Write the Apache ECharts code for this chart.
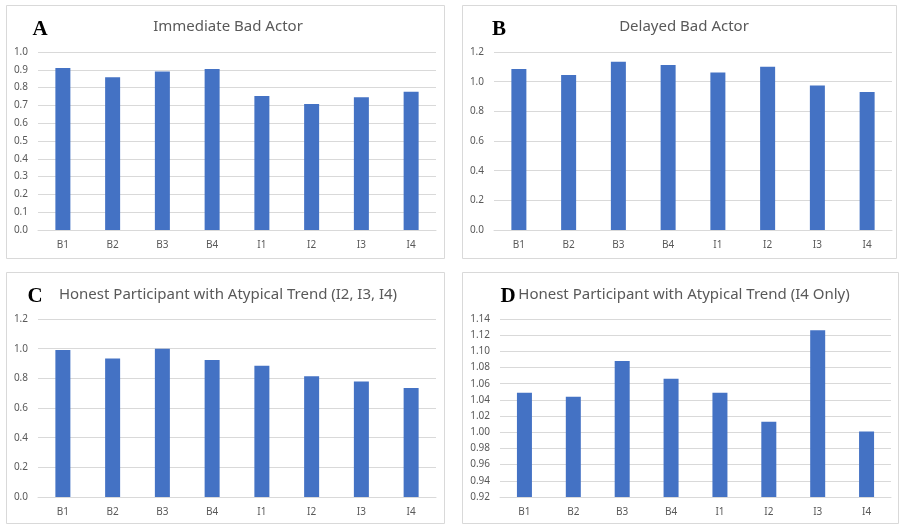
<!DOCTYPE html>
<html>
<head>
<meta charset="utf-8">
<script src="https://cdn.jsdelivr.net/npm/echarts@6/dist/echarts.min.js"></script>
<style>html,body{margin:0;padding:0;background:#fff;}#c{width:901px;height:525px;}</style>
</head>
<body>
<div id="c"></div>
<script>
const categories = ['B1','B2','B3','B4','I1','I2','I3','I4'];
const immediateBadActor = [0.910, 0.858, 0.890, 0.905, 0.753, 0.708, 0.746, 0.776];
const delayedBadActor = [1.086, 1.045, 1.135, 1.113, 1.061, 1.101, 0.974, 0.931];
const honestI2I3I4 = [0.991, 0.933, 1.000, 0.924, 0.884, 0.814, 0.779, 0.734];
const honestI4Only = [1.049, 1.044, 1.088, 1.066, 1.049, 1.013, 1.126, 1.001];
const panelTitles = ['Immediate Bad Actor', 'Delayed Bad Actor', 'Honest Participant with Atypical Trend (I2, I3, I4)', 'Honest Participant with Atypical Trend (I4 Only)'];
const panelLetters = ['A', 'B', 'C', 'D'];
const yMin = [0, 0, 0, 0.92];
const yMax = [1.0, 1.2, 1.2, 1.14];
const yStep = [0.1, 0.2, 0.2, 0.02];
const yDecimals = [1, 1, 1, 2];

const seriesData = [immediateBadActor, delayedBadActor, honestI2I3I4, honestI4Only];
const grids = [
  {left: 38, top: 52, width: 398, height: 178},
  {left: 494, top: 52, width: 398, height: 178},
  {left: 38, top: 319, width: 398, height: 178},
  {left: 500, top: 319, width: 391, height: 178}
];
const panels = [
  {x: 6, y: 5, w: 438, h: 253},
  {x: 462, y: 5, w: 434, h: 253},
  {x: 6, y: 272, w: 438, h: 251},
  {x: 462, y: 272, w: 436, h: 251}
];
const titlePos = [
  {x: 228, y: 27, lx: 40, ly: 30},
  {x: 684, y: 27, lx: 499, ly: 30},
  {x: 228, y: 295, lx: 35, ly: 297},
  {x: 684, y: 295, lx: 508, ly: 297}
];
const gray = '#595959';
const gridColor = '#d9d9d9';

const chart = echarts.init(document.getElementById('c'), null, {renderer: 'canvas'});
const graphics = [];
panels.forEach(p => graphics.push({type: 'rect', shape: {x: p.x + 0.5, y: p.y + 0.5, width: p.w, height: p.h}, style: {fill: null, stroke: gridColor, lineWidth: 1}, silent: true}));
titlePos.forEach((t, i) => {
  graphics.push({type: 'text', x: t.x, y: t.y, style: {text: panelTitles[i], font: '15px "Noto Sans", sans-serif', fill: gray, textAlign: 'center', textVerticalAlign: 'middle'}});
  graphics.push({type: 'text', x: t.lx, y: t.ly, style: {text: panelLetters[i], font: 'bold 21px "Liberation Serif", serif', fill: '#000', textAlign: 'center', textVerticalAlign: 'middle'}});
});

const option = {
  backgroundColor: '#fff',
  animation: false,
  graphic: graphics,
  grid: grids.map(g => Object.assign({containLabel: false}, g)),
  xAxis: grids.map((g, i) => ({
    type: 'category', gridIndex: i, data: categories,
    axisLine: {show: true, lineStyle: {color: gridColor}},
    axisTick: {show: false},
    axisLabel: {color: gray, fontSize: 10, margin: 10, fontFamily: 'Noto Sans'}
  })),
  yAxis: grids.map((g, i) => ({
    type: 'value', gridIndex: i, min: yMin[i], max: yMax[i], interval: yStep[i],
    axisLine: {show: false}, axisTick: {show: false},
    splitLine: {lineStyle: {color: gridColor}},
    axisLabel: {color: gray, fontSize: 10, margin: 10, fontFamily: 'Noto Sans', formatter: v => v.toFixed(yDecimals[i])}
  })),
  series: seriesData.map((d, i) => ({
    type: 'bar', xAxisIndex: i, yAxisIndex: i, data: d, barWidth: 15,
    itemStyle: {color: '#4472C4'}
  }))
};
chart.setOption(option);
</script>
</body>
</html>
